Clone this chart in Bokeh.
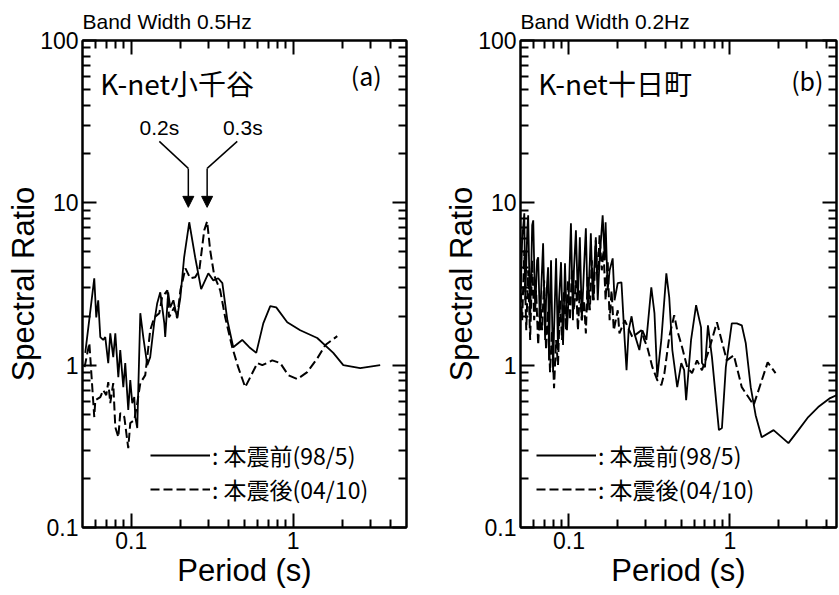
from bokeh.plotting import figure
from bokeh.layouts import row
from bokeh.models import (FixedTicker, LogAxis, Legend, LegendItem, Label, Arrow,
                          NormalHead, CustomJSTickFormatter, Range1d)
from bokeh.embed import file_html
from bokeh.resources import INLINE

# ---------------- data ----------------
# Panel (a) K-net 小千谷, band width 0.5 Hz
period_a_before = [0.052, 0.0591, 0.0608, 0.0625, 0.0644, 0.0671, 0.0691, 0.0721, 0.0742, 0.0774,
                   0.0797, 0.0832, 0.0855, 0.0893, 0.0918, 0.0958, 0.0986, 0.1014, 0.1044, 0.1059,
                   0.1089, 0.1137, 0.1186, 0.1256, 0.1309, 0.1387, 0.1446, 0.151, 0.160, 0.162,
                   0.169, 0.174, 0.182, 0.192, 0.201, 0.212, 0.228, 0.248, 0.270, 0.299,
                   0.321, 0.344, 0.365, 0.392, 0.426, 0.484, 0.535, 0.591, 0.653, 0.721,
                   0.785, 0.918, 1.104, 1.406, 1.766, 2.036, 2.59, 3.44]
ratio_a_before = [1.19, 3.43, 1.97, 2.51, 1.49, 1.43, 1.49, 1.03, 1.57, 1.12,
                  1.57, 0.844, 1.24, 0.732, 1.03, 0.529, 0.809, 0.584, 0.636, 0.479,
                  0.41, 2.09, 1.49, 1.0, 1.12, 1.84, 2.41, 2.81, 1.81, 1.49,
                  2.81, 2.27, 2.51, 1.95, 2.62, 4.62, 7.59, 4.62, 2.94, 3.68,
                  3.33, 3.43, 3.20, 1.89, 1.29, 1.43, 1.29, 1.19, 1.81, 2.31,
                  2.27, 1.84, 1.64, 1.47, 1.19, 1.0, 0.958, 1.0]
period_a_after = [0.0515, 0.0551, 0.0591, 0.0600, 0.0644, 0.0671, 0.0701, 0.0721, 0.0742, 0.0774,
                  0.0797, 0.0832, 0.0855, 0.0906, 0.0958, 0.0986, 0.1044, 0.1089, 0.1137, 0.122,
                  0.1309, 0.1387, 0.149, 0.155, 0.167, 0.171, 0.184, 0.192, 0.201, 0.216,
                  0.231, 0.248, 0.263, 0.282, 0.294, 0.307, 0.325, 0.354, 0.380, 0.420,
                  0.457, 0.505, 0.543, 0.600, 0.644, 0.742, 0.831, 0.931, 1.059, 1.220,
                  1.406, 1.577, 1.869]
ratio_a_after = [0.972, 1.37, 0.479, 0.609, 0.636, 0.702, 0.653, 0.786, 0.584, 0.775,
                 0.415, 0.360, 0.507, 0.479, 0.308, 0.440, 0.459, 0.584, 0.775, 0.868,
                 1.64, 1.97, 2.09, 2.62, 2.89, 1.97, 2.27, 1.95, 2.89, 3.95,
                 3.43, 3.48, 3.84, 6.77, 7.69, 5.10, 3.58, 2.89, 1.97, 1.29,
                 0.972, 0.732, 0.844, 1.03, 1.0, 1.07, 1.03, 0.868, 0.820, 0.906,
                 1.10, 1.33, 1.51]

# Panel (b) K-net 十日町, band width 0.2 Hz
period_b_before = [0.0499, 0.0512, 0.0528, 0.0535, 0.0551, 0.0558, 0.0574, 0.0591, 0.0600, 0.0617,
                   0.0634, 0.0644, 0.0662, 0.0672, 0.0691, 0.0711, 0.0721, 0.0742, 0.0752, 0.0763,
                   0.0774, 0.0797, 0.0808, 0.0832, 0.0855, 0.0868, 0.0893, 0.0919, 0.0945, 0.0972,
                   0.1000, 0.1029, 0.1059, 0.1074, 0.1105, 0.1137, 0.1169, 0.1202, 0.1239, 0.1274,
                   0.1309, 0.1349, 0.1368, 0.1407, 0.1426, 0.1469, 0.151, 0.155, 0.162, 0.167,
                   0.169, 0.174, 0.179, 0.187, 0.192, 0.201, 0.212, 0.222, 0.228, 0.235,
                   0.245, 0.255, 0.274, 0.286, 0.303, 0.325, 0.340, 0.354, 0.375, 0.403,
                   0.420, 0.439, 0.471, 0.499, 0.520, 0.535, 0.574, 0.617, 0.662, 0.671,
                   0.701, 0.731, 0.774, 0.855, 0.893, 0.944, 1.028, 1.104, 1.186, 1.255,
                   1.348, 1.446, 1.577, 1.869, 2.312, 2.667, 3.07, 3.54, 4.20, 4.71]
ratio_b_before = [2.51, 5.88, 8.61, 2.51, 6.77, 8.38, 1.89, 7.27, 7.80, 2.18,
                  4.43, 4.62, 1.64, 2.89, 5.64, 1.43, 2.51, 4.01, 1.07, 2.51,
                  4.43, 0.906, 1.64, 4.55, 1.24, 2.51, 4.31, 1.33, 4.24, 1.64,
                  2.89, 7.48, 1.89, 3.84, 6.77, 2.51, 6.14, 1.89, 3.84, 6.97,
                  2.18, 4.43, 6.49, 2.51, 3.33, 6.14, 2.51, 4.43, 8.38, 4.43,
                  7.59, 2.89, 3.84, 4.55, 2.51, 3.20, 3.24, 1.43, 0.931, 1.64,
                  2.00, 1.57, 1.24, 1.64, 1.43, 3.02, 2.09, 0.844, 1.43, 3.68,
                  2.62, 1.24, 0.732, 1.03, 0.931, 0.609, 1.43, 2.34, 1.71, 1.03,
                  0.972, 1.76, 1.12, 0.398, 0.410, 0.972, 1.81, 1.81, 1.76, 1.37,
                  0.732, 0.492, 0.360, 0.398, 0.331, 0.398, 0.479, 0.552, 0.627, 0.66]
period_b_after = [0.0499, 0.0512, 0.0528, 0.0543, 0.0558, 0.0574, 0.0591, 0.0608, 0.0625, 0.0644,
                  0.0662, 0.0681, 0.0701, 0.0721, 0.0742, 0.0763, 0.0785, 0.0808, 0.0832, 0.0855,
                  0.0880, 0.0906, 0.0932, 0.0958, 0.0986, 0.1014, 0.1044, 0.1074, 0.1105, 0.1137,
                  0.1169, 0.1202, 0.1239, 0.1274, 0.1309, 0.1349, 0.1387, 0.1426, 0.1469, 0.151,
                  0.155, 0.160, 0.164, 0.169, 0.174, 0.179, 0.184, 0.190, 0.201, 0.206,
                  0.222, 0.248, 0.282, 0.294, 0.307, 0.330, 0.354, 0.375, 0.392, 0.420,
                  0.451, 0.471, 0.505, 0.543, 0.582, 0.625, 0.671, 0.742, 0.831, 0.957,
                  1.059, 1.186, 1.406, 1.718, 1.923]
ratio_b_after = [3.33, 1.89, 5.10, 1.64, 3.84, 1.43, 4.43, 1.89, 2.89, 1.33,
                 2.51, 1.64, 3.33, 1.24, 2.18, 0.906, 1.64, 0.722, 1.43, 1.00,
                 2.51, 1.43, 2.89, 1.64, 3.33, 1.89, 3.84, 2.18, 3.33, 1.64,
                 2.89, 1.89, 2.51, 1.57, 3.58, 2.18, 4.43, 2.51, 5.88, 3.33,
                 6.31, 3.84, 5.10, 2.51, 4.43, 1.89, 2.89, 1.64, 2.18, 1.57,
                 1.89, 1.49, 1.64, 1.43, 1.29, 0.972, 0.809, 0.753, 0.893, 1.49,
                 2.03, 1.64, 1.29, 0.972, 0.893, 1.07, 0.931, 1.24, 1.84, 1.07,
                 1.15, 0.732, 0.568, 1.04, 0.893]

# axis ticks
x_major = [0.1, 1]
x_minor = [0.06, 0.07, 0.08, 0.09, 0.2, 0.3, 0.4, 0.5, 0.6, 0.7, 0.8, 0.9, 2, 3, 4]
y_major = [0.1, 1, 10, 100]
y_minor = [0.2, 0.3, 0.4, 0.5, 0.6, 0.7, 0.8, 0.9, 2, 3, 4, 5, 6, 7, 8, 9,
           20, 30, 40, 50, 60, 70, 80, 90]

label_before = ": 本震前(98/5)"
label_after = ": 本震後(04/10)"

LATIN = "Liberation Sans"
CJK = "Noto Sans CJK JP"


def style_axis(ax, labels=True, tick_standoff=3, label_standoff=3):
    ax.axis_line_width = 2
    ax.axis_line_color = "black"
    ax.major_tick_in = 14
    ax.major_tick_out = 0
    ax.minor_tick_in = 8
    ax.minor_tick_out = 0
    ax.major_tick_line_width = 2
    ax.minor_tick_line_width = 2
    ax.major_tick_line_color = "black"
    ax.minor_tick_line_color = "black"
    ax.level = "overlay"
    ax.formatter = CustomJSTickFormatter(code="return tick.toString();")
    if labels:
        ax.major_label_text_font = LATIN
        ax.major_label_text_font_size = "23px"
        ax.major_label_text_color = "black"
        ax.major_label_standoff = tick_standoff
        ax.axis_label_text_font = LATIN
        ax.axis_label_text_font_size = "31px"
        ax.axis_label_text_font_style = "normal"
        ax.axis_label_text_color = "black"
        ax.axis_label_standoff = label_standoff
    else:
        ax.major_label_text_font_size = "2px"
        ax.major_label_text_alpha = 0
        ax.major_label_standoff = 0


def make_panel(title, xmax, frame_w, ml, mr, station, tag, tag_x, tag_y,
               px_b, ry_b, px_a, ry_a, legend_x):
    p = figure(x_axis_type="log", y_axis_type="log",
               x_range=Range1d(0.05, xmax), y_range=Range1d(0.1, 100),
               frame_width=frame_w, frame_height=487,
               min_border_left=ml, min_border_right=mr,
               min_border_top=40, min_border_bottom=68,
               output_backend="svg", toolbar_location=None, title=title)
    p.title.text_font = LATIN
    p.title.text_font_size = "21px"
    p.title.text_font_style = "normal"
    p.title.text_color = "black"
    p.title.align = "left"
    p.title.standoff = 15
    p.xgrid.visible = False
    p.ygrid.visible = False
    p.outline_line_color = "black"
    p.outline_line_width = 2
    p.background_fill_color = None
    p.border_fill_color = None

    xa = p.xaxis[0]
    ya = p.yaxis[0]
    xa.ticker = FixedTicker(ticks=x_major, minor_ticks=x_minor)
    ya.ticker = FixedTicker(ticks=y_major, minor_ticks=y_minor)
    style_axis(xa, tick_standoff=4, label_standoff=1)
    style_axis(ya, tick_standoff=4, label_standoff=-4)
    xa.axis_label = "Period (s)"
    ya.axis_label = "Spectral Ratio"

    top = LogAxis(ticker=FixedTicker(ticks=x_major, minor_ticks=x_minor))
    style_axis(top, labels=False)
    p.add_layout(top, "above")
    right = LogAxis(ticker=FixedTicker(ticks=y_major, minor_ticks=y_minor))
    style_axis(right, labels=False)
    p.add_layout(right, "right")

    r1 = p.line(px_b, ry_b, line_color="black", line_width=1.8)
    r2 = p.line(px_a, ry_a, line_color="black", line_width=2, line_dash="9 4")

    legend = Legend(items=[LegendItem(label=label_before, renderers=[r1]),
                           LegendItem(label=label_after, renderers=[r2])],
                    location=(legend_x, 21))
    legend.label_text_font = CJK
    legend.label_text_font_size = "23px"
    legend.label_text_color = "black"
    legend.glyph_width = 60
    legend.glyph_height = 34
    legend.label_height = 34
    legend.label_standoff = 2
    legend.spacing = 0
    legend.padding = 0
    legend.margin = 0
    legend.border_line_color = None
    legend.background_fill_alpha = 0
    p.add_layout(legend)

    p.add_layout(Label(x=0.0644, y=55.1, text=station, text_font=CJK, text_color="black",
                       text_font_size="28px", text_baseline="middle", text_align="left"))
    p.add_layout(Label(x=tag_x, y=tag_y, text=tag, text_font=CJK, text_color="black",
                       text_font_size="25px", text_baseline="middle", text_align="center"))
    return p


pa = make_panel("Band Width 0.5Hz", 5.0, 324, 82, 14, "K-net小千谷", "(a)", 2.82, 60.9,
                period_a_before, ratio_a_before, period_a_after, ratio_a_after, 68)

# arrows for 0.2 s and 0.3 s peaks
for tx, sx, ax_, txt in [(0.149, 0.149, 0.225, "0.2s"), (0.488, 0.451, 0.294, "0.3s")]:
    pa.add_layout(Label(x=tx, y=29.2, text=txt, text_font=LATIN, text_font_size="21px",
                        text_color="black", text_align="center", text_baseline="middle"))
    pa.add_layout(Arrow(end=None, x_start=sx, y_start=23.9, x_end=ax_, y_end=16.3,
                        line_width=1.5, line_color="black"))
    pa.add_layout(Arrow(end=NormalHead(size=11, fill_color="black", line_color="black"),
                        x_start=ax_, y_start=16.3, x_end=ax_, y_end=9.38,
                        line_width=1.5, line_color="black"))

pb = make_panel("Band Width 0.2Hz", 4.6, 316, 100, 2, "K-net十日町", "(b)", 3.03, 57.5,
                period_b_before, ratio_b_before, period_b_after, ratio_b_after, 16)

layout = row(pa, pb, spacing=0)
open("out.html", "w").write(file_html(layout, INLINE))
